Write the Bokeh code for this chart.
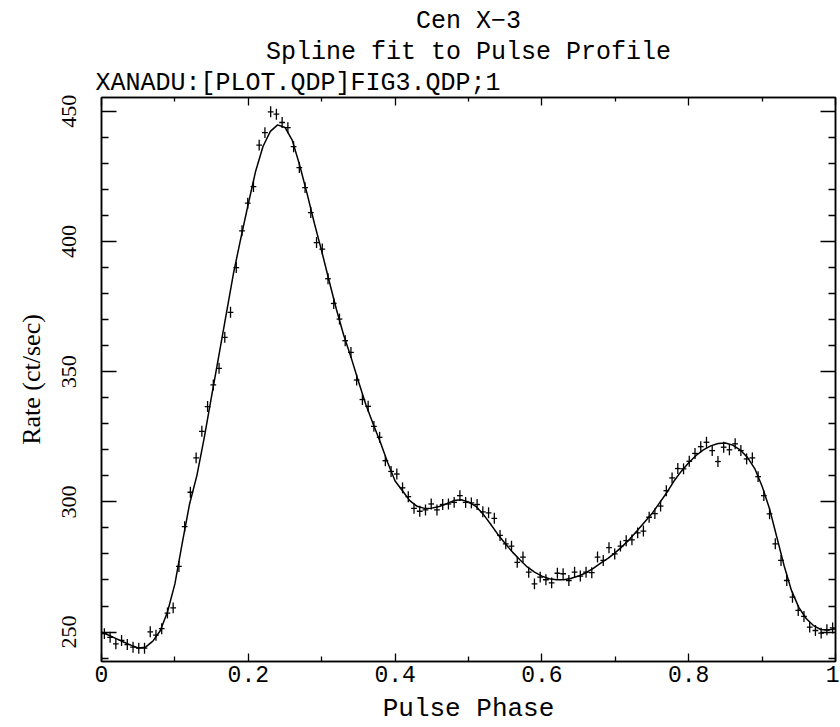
import numpy as np
from bokeh.plotting import figure
from bokeh.models import LinearAxis, FixedTicker, Range1d, ColumnDataSource, Title
from bokeh.embed import file_html
from bokeh.resources import INLINE

# ---------------- data ----------------
N_BINS = 128
rate = [
    249.4, 248.0, 245.5, 246.8, 245.2, 244.2, 243.8, 243.8, 250.1, 248.8,
    251.3, 257.3, 259.3, 275.2, 290.5, 303.7, 316.9, 327.1, 336.6, 344.9,
    351.3, 363.2, 372.8, 390.0, 404.1, 414.7, 421.1, 437.0, 441.8, 449.8,
    448.9, 445.7, 443.7, 436.4, 428.4, 420.7, 411.1, 399.6, 397.1, 385.7,
    376.2, 370.2, 361.9, 357.4, 346.8, 339.3, 336.7, 329.0, 324.8, 315.8,
    311.7, 310.7, 305.4, 302.0, 297.5, 296.4, 296.9, 299.2, 296.9, 299.0,
    299.2, 299.8, 302.4, 299.8, 299.6, 299.0, 296.2, 295.8, 293.7, 287.1,
    283.9, 283.0, 276.8, 278.8, 273.0, 268.5, 271.1, 270.1, 268.9, 272.6,
    272.4, 269.8, 273.0, 271.5, 273.0, 272.8, 278.8, 277.5, 282.4, 280.0,
    283.0, 285.1, 285.4, 288.1, 288.8, 294.1, 295.5, 298.4, 304.3, 309.2,
    312.8, 312.7, 315.6, 318.6, 321.2, 322.9, 319.7, 315.5, 321.0, 320.0,
    322.3, 319.7, 316.5, 316.9, 309.7, 302.4, 295.4, 283.9, 277.5, 269.8,
    263.4, 258.3, 256.0, 251.9, 250.6, 249.6, 250.9, 251.6]
rate_err = 2.1  # ct/sec, half-height of error bars

# spline fit, sampled every 0.01 in phase (0.00 ... 1.00)
curve_rate = [
    250.0, 248.8, 247.5, 246.2, 245.0, 243.9, 244.2, 246.5, 250.5, 257.8,
    268.5, 284.2, 299.2, 310.2, 324.7, 340.6, 356.4, 372.2, 388.0, 401.5,
    414.5, 427.0, 436.5, 442.3, 444.8, 443.8, 438.8, 429.3, 418.5, 407.0,
    396.3, 385.0, 374.0, 364.0, 355.5, 346.3, 337.5, 330.0, 322.8, 315.0,
    308.0, 304.3, 300.5, 298.3, 297.5, 297.6, 298.2, 299.3, 300.5, 300.8,
    300.0, 298.3, 295.3, 291.5, 287.5, 284.0, 280.7, 277.8, 275.0, 273.0,
    271.5, 270.5, 270.1, 270.1, 270.7, 271.5, 272.8, 274.5, 276.5, 278.3,
    280.5, 283.0, 285.8, 289.0, 292.3, 295.5, 299.5, 303.5, 308.0, 311.8,
    315.0, 317.8, 320.0, 321.5, 322.4, 322.6, 321.8, 320.0, 317.1, 312.8,
    306.0, 297.5, 286.5, 275.5, 266.0, 259.5, 255.2, 252.5, 251.0, 250.8,
    251.3]

x_major = [0, 0.2, 0.4, 0.6, 0.8, 1.0]
x_minor = [0.1, 0.3, 0.5, 0.7, 0.9]
x_tick_labels = {0: "0", 0.2: "0.2", 0.4: "0.4", 0.6: "0.6", 0.8: "0.8", 1.0: "1"}
y_major = [250, 300, 350, 400, 450]
y_minor = [240, 260, 270, 280, 290, 310, 320, 330, 340, 360, 370, 380, 390,
           410, 420, 430, 440]

TITLE = "Cen X\u22123"
SUBTITLE = "Spline fit to Pulse Profile"
FILE_LABEL = "XANADU:[PLOT.QDP]FIG3.QDP;1"
X_LABEL = "Pulse Phase"
Y_LABEL = "Rate (ct/sec)"

X_RANGE = (0, 1)
Y_RANGE = (238.7, 455.3)

# ---------------- derived ----------------
phase = (np.arange(N_BINS) + 0.5) / N_BINS
half = 0.5 / N_BINS
r = np.array(rate)
src = ColumnDataSource(dict(x=phase, y=r, x0=phase - half, x1=phase + half,
                            ylo=r - rate_err, yhi=r + rate_err))
curve_phase = np.arange(len(curve_rate)) / (len(curve_rate) - 1)

HERSHEY = "Liberation Mono"
SERIF = "Liberation Serif"

p = figure(width=839, height=727, x_range=Range1d(*X_RANGE), y_range=Range1d(*Y_RANGE),
           output_backend="svg", toolbar_location=None,
           min_border_left=101, min_border_right=4, min_border_top=97, min_border_bottom=66)
p.grid.visible = False
p.outline_line_color = "black"
p.outline_line_width = 1.5
p.background_fill_color = "white"
p.border_fill_color = "white"

xt = FixedTicker(ticks=x_major, minor_ticks=x_minor)
yt = FixedTicker(ticks=y_major, minor_ticks=y_minor)


def style(ax, ticker, major_in, minor_in):
    ax.ticker = ticker
    ax.axis_line_color = "black"
    ax.axis_line_width = 1.5
    ax.major_tick_line_color = "black"
    ax.minor_tick_line_color = "black"
    ax.major_tick_line_width = 1.3
    ax.minor_tick_line_width = 1.3
    ax.major_tick_in = major_in
    ax.major_tick_out = 0
    ax.minor_tick_in = minor_in
    ax.minor_tick_out = 0


xa = p.xaxis[0]
style(xa, xt, 8, 5)
xa.major_label_overrides = x_tick_labels
xa.major_label_text_font = HERSHEY
xa.major_label_text_font_size = "23px"
xa.major_label_text_color = "black"
xa.major_label_standoff = 4
xa.axis_label = X_LABEL
xa.axis_label_text_font = HERSHEY
xa.axis_label_text_font_size = "26px"
xa.axis_label_text_font_style = "normal"
xa.axis_label_text_color = "black"
xa.axis_label_standoff = 9

ya = p.yaxis[0]
style(ya, yt, 15, 7)
ya.major_label_orientation = "vertical"
ya.major_label_text_font = SERIF
ya.major_label_text_font_size = "22px"
ya.major_label_text_color = "black"
ya.major_label_standoff = 25
ya.axis_label = Y_LABEL
ya.axis_label_text_font = SERIF
ya.axis_label_text_font_size = "26px"
ya.axis_label_text_font_style = "normal"
ya.axis_label_text_color = "black"
ya.axis_label_standoff = 14

top = LinearAxis()
style(top, xt, 8, 4)
top.major_label_text_font_size = "1px"
top.major_label_text_color = None
top.major_label_standoff = 0
p.add_layout(top, "above")

right = LinearAxis()
style(right, yt, 15, 7)
right.major_label_text_font_size = "1px"
right.major_label_text_color = None
right.major_label_standoff = 0
p.add_layout(right, "right")

# data crosses
p.segment(x0="x", y0="ylo", x1="x", y1="yhi", source=src, line_color="black", line_width=1.3)
p.segment(x0="x0", y0="y", x1="x1", y1="y", source=src, line_color="black", line_width=1.3)
# spline fit
p.line(curve_phase, curve_rate, line_color="black", line_width=1.5)

# titles, added from the frame outwards
for txt, align, stand, off in [(FILE_LABEL, "left", 0, -6),
                               (SUBTITLE, "center", 0, 0),
                               (TITLE, "center", 0, 0)]:
    p.add_layout(Title(text=txt, align=align, standoff=stand, offset=off,
                       text_font=HERSHEY, text_font_size="25px",
                       text_font_style="normal", text_color="black"), "above")

open("out.html", "w").write(file_html(p, INLINE))
